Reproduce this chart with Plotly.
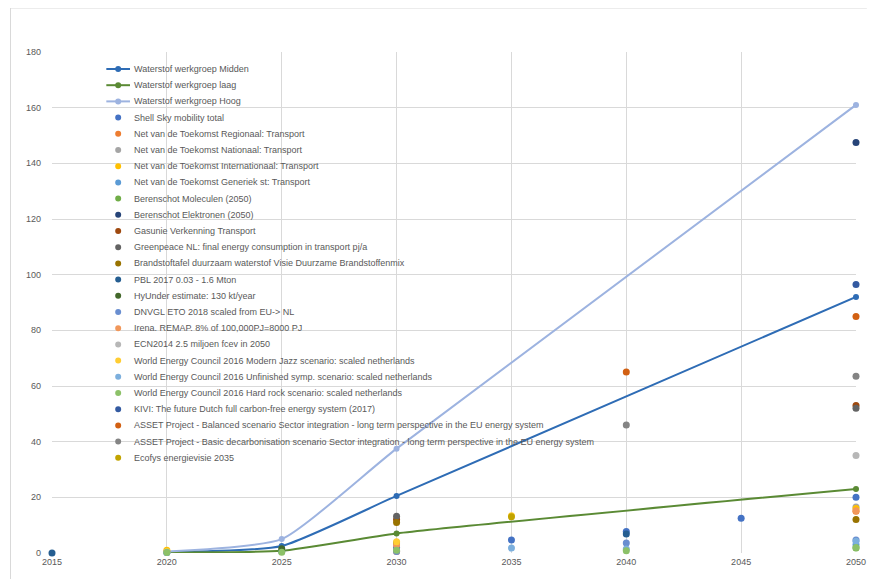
import plotly.graph_objects as go

# ---------------- data ----------------
line_names = ["Waterstof werkgroep Midden", "Waterstof werkgroep laag", "Waterstof werkgroep Hoog"]
line_years = [2020, 2025, 2030, 2050]
midden = [0.3, 2.5, 20.5, 92]
laag = [0.2, 0.8, 7, 23]
hoog = [0.5, 5, 37.5, 161]
line_colors = ["#2E6CB5", "#5A8A34", "#9DB3E0"]

years = [2015, 2020, 2025, 2030, 2035, 2040, 2045, 2050]
N = None
scatter_names = [
    "Shell Sky mobility total",
    "Net van de Toekomst Regionaal: Transport",
    "Net van de Toekomst Nationaal: Transport",
    "Net van de Toekomst Internationaal: Transport",
    "Net van de Toekomst Generiek st: Transport",
    "Berenschot Moleculen (2050)",
    "Berenschot Elektronen (2050)",
    "Gasunie Verkenning Transport",
    "Greenpeace NL: final energy consumption in transport pj/a",
    "Brandstoftafel duurzaam waterstof Visie Duurzame Brandstoffenmix",
    "PBL 2017 0.03 - 1.6 Mton",
    "HyUnder estimate: 130 kt/year",
    "DNVGL ETO 2018 scaled from EU-> NL",
    "Irena. REMAP. 8% of 100,000PJ=8000 PJ",
    "ECN2014 2.5 miljoen fcev in 2050",
    "World Energy Council 2016 Modern Jazz scenario: scaled netherlands",
    "World Energy Council 2016 Unfinished symp. scenario: scaled netherlands",
    "World Energy Council 2016 Hard rock scenario: scaled netherlands",
    "KIVI: The future Dutch full carbon-free energy system (2017)",
    "ASSET Project - Balanced scenario Sector integration - long term perspective in the EU energy system",
    "ASSET Project - Basic decarbonisation scenario Sector integration - long term perspective in the EU energy system",
    "Ecofys energievisie 2035",
]
scatter_values = [
    [N, 0.2, 0.5, 2.0, 4.7, 7.7, 12.5, 20.0],
    [N, N, N, 0.5, N, N, N, 15.0],
    [N, N, N, N, N, N, N, 16.5],
    [N, 1.0, N, N, N, N, N, 16.0],
    [N, N, N, N, N, N, N, 3.0],
    [N, N, N, N, N, N, N, 1.8],
    [N, N, N, N, N, N, N, 147.5],
    [N, N, N, 12.0, N, N, N, 53.0],
    [N, N, N, 13.2, N, N, N, 52.0],
    [N, N, N, 11.0, N, N, N, 12.0],
    [0.0, N, N, N, N, 6.8, N, N],
    [N, N, 1.5, 3.6, N, N, N, N],
    [N, 0.3, N, 0.5, N, 3.6, N, 4.7],
    [N, N, N, 2.9, N, N, N, 15.2],
    [N, N, N, N, N, N, N, 35.0],
    [N, 0.5, N, 4.0, 13.4, N, N, N],
    [N, 0.3, N, N, 1.8, 1.4, N, 4.2],
    [N, 0.2, 0.3, 1.0, N, 0.8, N, 2.0],
    [N, N, N, N, N, N, N, 96.5],
    [N, N, N, N, N, 65.0, N, 85.0],
    [N, N, N, N, N, 46.0, N, 63.5],
    [N, N, N, N, 13.0, N, N, N],
]
scatter_colors = [
    "#4472C4", "#ED7D31", "#A5A5A5", "#FFC000", "#5B9BD5", "#70AD47",
    "#264478", "#9E480E", "#636363", "#997300", "#255E91", "#43682B",
    "#698ED0", "#F1975A", "#B7B7B7", "#FFCD33", "#7CAFDD", "#8CC168",
    "#335AA1", "#D26012", "#848484", "#C2A400",
]
y_ticks = [0, 20, 40, 60, 80, 100, 120, 140, 160, 180]
x_ticks = [2015, 2020, 2025, 2030, 2035, 2040, 2045, 2050]

# ---------------- figure ----------------
# page body has an 8px margin, so the figure starts at (8, 8) in the window
OFF = 8
W, H = 877 - OFF, 579 - OFF
ML, MR, MT, MB = 52 - OFF, 11, 52 - OFF, 26
PW, PH = W - ML - MR, H - MT - MB

def px_x(p):  # window pixel -> paper x
    return (p - OFF - ML) / PW

def px_y(p):  # window pixel -> paper y
    return (H + OFF - MB - p) / PH

fig = go.Figure()

for name, vals, col in zip(line_names, [midden, laag, hoog], line_colors):
    fig.add_trace(go.Scatter(
        x=line_years, y=vals, name=name, mode="lines+markers",
        line=dict(color=col, width=2, shape="spline", smoothing=0.5),
        marker=dict(color=col, size=6), cliponaxis=False, showlegend=False))

for name, vals, col in zip(scatter_names, scatter_values, scatter_colors):
    fig.add_trace(go.Scatter(
        x=years, y=vals, name=name, mode="markers",
        marker=dict(color=col, size=7), cliponaxis=False, showlegend=False))

# manual compact legend (Excel-style spacing)
shapes = []
annotations = []
all_names = line_names + scatter_names
all_colors = line_colors + scatter_colors
step = 16.2
for i, (name, col) in enumerate(zip(all_names, all_colors)):
    yp = px_y(69 + step * i)
    if i < len(line_names):
        shapes.append(dict(type="line", xref="paper", yref="paper",
                           x0=px_x(107), x1=px_x(131), y0=yp, y1=yp,
                           line=dict(color=col, width=2)))
    shapes.append(dict(type="circle", xref="paper", yref="paper",
                       xsizemode="pixel", ysizemode="pixel",
                       xanchor=px_x(119), yanchor=yp,
                       x0=-3, x1=3, y0=-3, y1=3,
                       fillcolor=col, line=dict(color=col, width=0)))
    annotations.append(dict(xref="paper", yref="paper", x=px_x(133), y=yp,
                            text=name, showarrow=False, xanchor="left",
                            yanchor="middle",
                            font=dict(size=9, color="#595959",
                                      family="Liberation Sans, Arial, sans-serif")))

# chart-area border (left and top)
shapes.append(dict(type="line", xref="paper", yref="paper",
                   x0=px_x(10), x1=px_x(10), y0=px_y(8), y1=px_y(579),
                   line=dict(color="#D9D9D9", width=1), layer="below"))
shapes.append(dict(type="line", xref="paper", yref="paper",
                   x0=px_x(10), x1=px_x(877), y0=px_y(8), y1=px_y(8),
                   line=dict(color="#D9D9D9", width=1), layer="below"))

fig.update_layout(
    width=W, height=H,
    margin=dict(l=ML, r=MR, t=MT, b=MB, pad=0),
    paper_bgcolor="white", plot_bgcolor="white",
    showlegend=False,
    shapes=shapes, annotations=annotations,
    font=dict(family="Liberation Sans, Arial, sans-serif", size=9, color="#595959"),
    xaxis=dict(range=[2015, 2050], tickvals=x_ticks, ticktext=[str(v) for v in x_ticks],
               showgrid=True, gridcolor="#D9D9D9", gridwidth=1, zeroline=False,
               showline=False, ticks="", ticklabelstandoff=2,
               tickfont=dict(size=9, color="#595959")),
    yaxis=dict(range=[0, 180], tickvals=y_ticks, showgrid=True, gridcolor="#D9D9D9",
               gridwidth=1, zeroline=False, showline=False, ticks="",
               ticklabelstandoff=10, tickfont=dict(size=9, color="#595959")),
)

fig.write_html("out.html")
